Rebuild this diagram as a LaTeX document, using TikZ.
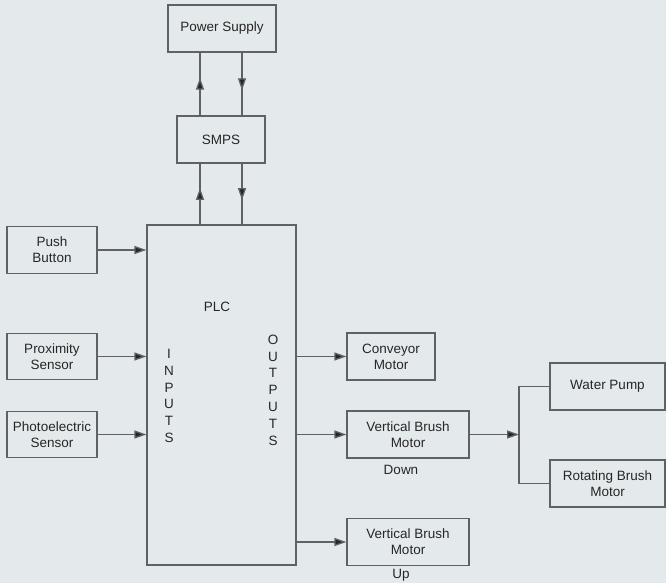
\documentclass[tikz,border=0pt]{standalone}
\usepackage{fontspec}
\setmainfont{Liberation Sans}
\usepackage{tikz}
\usetikzlibrary{arrows.meta,decorations.markings}

\definecolor{bgc}{HTML}{E4EAEC}
\definecolor{linec}{HTML}{5E6264}
\definecolor{txtc}{HTML}{262626}

\tikzset{
  blk/.style={draw=linec, line width=1.3pt, align=center, inner sep=0pt,
    text=txtc, font=\fontsize{13.5}{16}\selectfont},
  lbl/.style={text=txtc, font=\fontsize{13.5}{16}\selectfont},
  vlbl/.style={text=txtc, align=center, font=\fontsize{13.5}{16.8}\selectfont},
  conn/.style={draw=linec, line width=1.3pt},
  arr/.style={conn, -{Triangle[length=12pt,width=8pt,fill=txtc]}},
  midarr/.style={conn, decoration={markings,
    mark=at position 0.6 with {\arrow{Triangle[length=12pt,width=8pt,fill=txtc]}}},
    postaction={decorate}}
}

\begin{document}
\begin{tikzpicture}[x=1pt, y=-1pt]
  % Background
  \fill[bgc] (0,0) rectangle (666,583);
  \useasboundingbox (0,0) rectangle (666,583);

  % Supply chain
  \node[blk, minimum width=108pt, minimum height=47pt] (ps) at (222,28.5) {Power Supply};
  \node[blk, minimum width=88pt, minimum height=47pt] (smps) at (221,139.5) {SMPS};

  % PLC block
  \node[blk, minimum width=149pt, minimum height=340pt] (plc) at (221.5,395) {};
  \node[lbl] (plcl) at (217,307) {PLC};
  \node[vlbl] (inl) at (169,396) {I\\N\\P\\U\\T\\S};
  \node[vlbl] (outl) at (273,390) {O\\U\\T\\P\\U\\T\\S};

  % Inputs
  \foreach \n/\y/\t in {push/250/{Push\\Button}, prox/356.5/{Proximity\\Sensor},
                        photo/434.5/{Photoelectric\\Sensor}} {
    \node[blk, minimum width=90pt, minimum height=46.5pt] (\n) at (52,\y) {\t};
    \draw[arr] (\n) -- (\n -| plc.west);
  }

  % Outputs
  \node[blk, minimum width=88pt, minimum height=47pt] (conv) at (391,356.5) {Conveyor\\Motor};
  \node[blk, minimum width=122pt, minimum height=47pt] (vbd) at (408,434.5) {Vertical Brush\\Motor};
  \node[blk, minimum width=122pt, minimum height=47pt] (vbu) at (408,542) {Vertical Brush\\Motor};
  \node[lbl] (downl) at (401,470) {Down};
  \node[lbl] (upl) at (401,575) {Up};
  \foreach \n in {conv, vbd, vbu}
    \draw[arr] (\n -| plc.east) -- (\n.west);

  % Pump and brush
  \node[blk, minimum width=115pt, minimum height=47pt] (wp) at (607.5,386.5) {Water Pump};
  \node[blk, minimum width=115pt, minimum height=47pt] (rb) at (607.5,483.5) {Rotating Brush\\Motor};
  \coordinate (jn) at (519,434.5);
  \draw[arr] (vbd.east) -- (jn);
  \draw[conn] (wp.west) -| (jn) |- (rb.west);

  % Up and down links
  \foreach \s in {-21,21} {
    \coordinate (a\s) at ([xshift=\s pt]smps.north);
    \coordinate (b\s) at ([xshift=\s pt]smps.south);
  }
  \draw[midarr] (a-21) -- (a-21 |- ps.south);
  \draw[midarr] (a21 |- ps.south) -- (a21);
  \draw[midarr] (b-21 |- plc.north) -- (b-21);
  \draw[midarr] (b21) -- (b21 |- plc.north);
\end{tikzpicture}
\end{document}
